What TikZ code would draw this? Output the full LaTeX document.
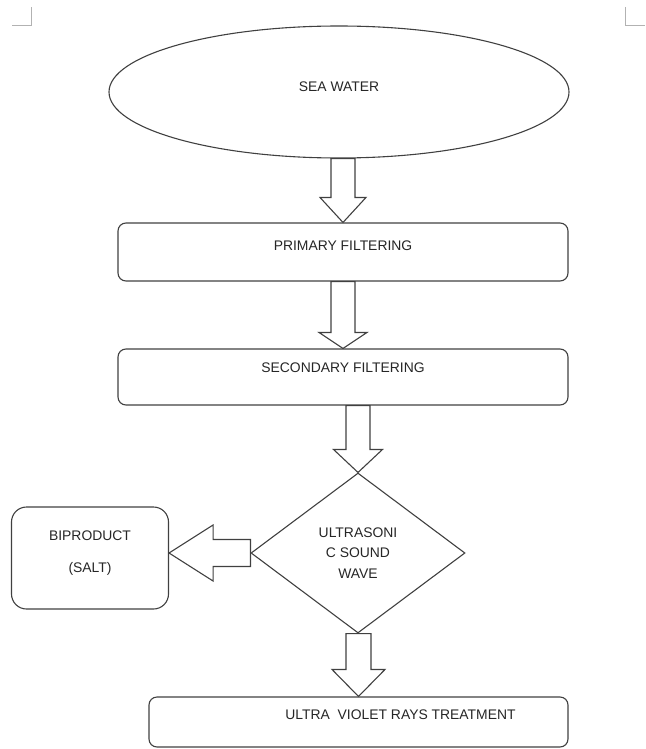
\documentclass[tikz,border=0pt]{standalone}
\usepackage{fontspec}
\setsansfont{Liberation Sans}
\usetikzlibrary{shapes.geometric,calc}
\newcommand{\blockdown}[5]{%
  \draw[blockarrow] let \p1=(#1), \p2=(#2) in
    (\x2-#3pt,\y1) -- (\x2-#3pt,\y2+#5pt) -- (\x2-#4pt,\y2+#5pt) -- (\x2,\y2)
    -- (\x2+#4pt,\y2+#5pt) -- (\x2+#3pt,\y2+#5pt) -- (\x2+#3pt,\y1) -- cycle;}
\newcommand{\blockleft}[5]{%
  \draw[blockarrow] let \p1=(#1), \p2=(#2) in
    (\x1,\y1+#3pt) -- (\x2+#5pt,\y1+#3pt) -- (\x2+#5pt,\y1+#4pt) -- (\x2,\y1)
    -- (\x2+#5pt,\y1-#4pt) -- (\x2+#5pt,\y1-#3pt) -- (\x1,\y1-#3pt) -- cycle;}

\begin{document}
\begin{tikzpicture}[x=1pt,y=-1pt,
    every node/.style={font=\sffamily\fontsize{13.9}{16.7}\selectfont,text=black!85},
    stage/.style={draw=black!75,line width=1.1pt,rounded corners=8pt,minimum height=58pt},
    blockarrow/.style={draw=black!75,line width=1.1pt,line join=miter}]
    \useasboundingbox (0,0) rectangle (645,749);
    \draw[black!30,line width=0.8pt] (12,25) -- (31,25) -- (31,7);
    \draw[black!30,line width=0.8pt] (625,7) -- (625,25) -- (645,25);

    \node (1) at (339,92) [ellipse,draw=black!75,line width=1.1pt,minimum width=460pt,minimum height=132pt,text depth=10pt] {SEA WATER};
    \node (2) at (343,252) [stage,minimum width=450pt,text depth=12pt] {PRIMARY FILTERING};
    \node (3) at (343,377) [stage,minimum width=450pt,minimum height=56pt,text depth=18pt] {SECONDARY FILTERING};
    \node (4) at (358,553) [diamond,draw=black!75,line width=1.1pt,inner sep=0pt,minimum width=214pt,minimum height=160pt,align=center] {ULTRASONI\\[4pt]C SOUND\\[4pt]WAVE};
    \node (5) at (90,558) [stage,rounded corners=15pt,minimum width=157pt,minimum height=102pt,align=center,text depth=13pt] {BIPRODUCT\\[16pt](SALT)};
    \node (6) at (358.5,722) [stage,minimum width=419pt,minimum height=50pt,text depth=14pt] {\hspace*{84pt}ULTRA\ \ VIOLET RAYS TREATMENT};

    \blockdown{1.south}{2.north}{12}{23}{25}
    \blockdown{2.south}{3.north}{12}{24}{16}
    \blockdown{3.south}{4.north}{12}{24.5}{23}
    \blockdown{4.south}{6.north}{12.5}{26.5}{27}
    \blockleft{4.west}{5.east}{13.5}{28}{44}
\end{tikzpicture}
\end{document}
